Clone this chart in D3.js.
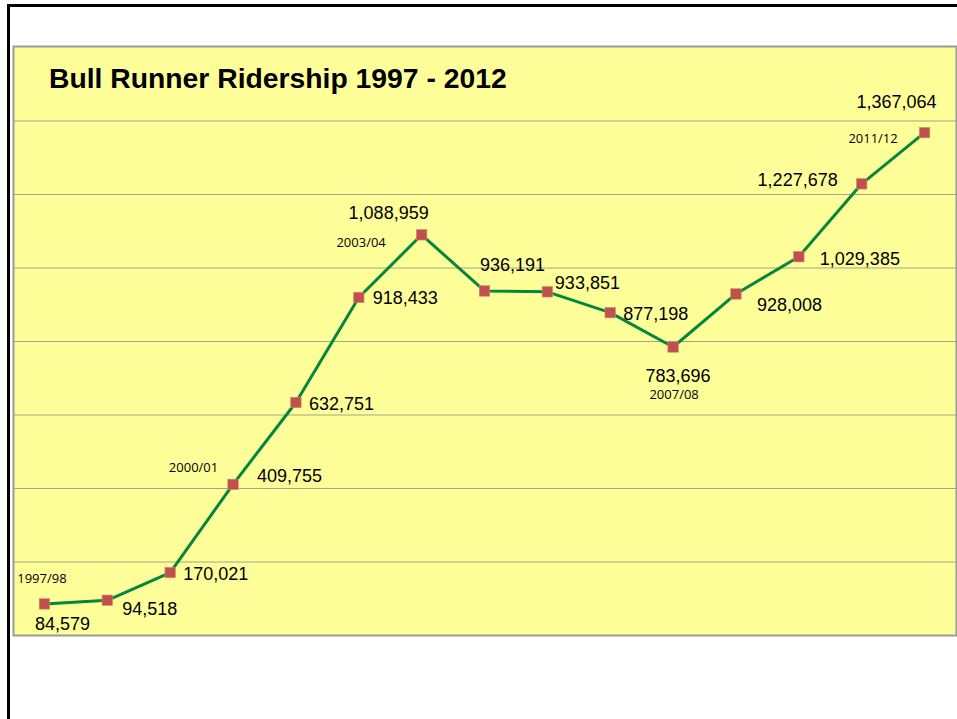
<!DOCTYPE html>
<html>
<head>
<meta charset="utf-8">
<script src="https://cdn.jsdelivr.net/npm/d3@7"></script>
<style>
  html, body { margin: 0; padding: 0; background: #ffffff; }
  svg { display: block; }
</style>
</head>
<body>
<svg id="chart" width="957" height="719"></svg>
<script>
// ---- data ----
const title = "Bull Runner Ridership 1997 - 2012";
const categories = ["1997/98","1998/99","1999/00","2000/01","2001/02","2002/03","2003/04",
  "2004/05","2005/06","2006/07","2007/08","2008/09","2009/10","2010/11","2011/12"];
const ridership = [84579, 94518, 170021, 409755, 632751, 918433, 1088959,
  936191, 933851, 877198, 783696, 928008, 1029385, 1227678, 1367064];
const yTicks = [0, 200000, 400000, 600000, 800000, 1000000, 1200000, 1400000, 1600000];
const labelledCategories = ["1997/98", "2000/01", "2003/04", "2007/08", "2011/12"];

// ---- label layout (offsets from each marker: dx, dy, anchor) ----
const valueLabelLayout = [
  [18, 26, "middle"], [15, 15, "start"], [13, 7, "start"], [24, -2, "start"],
  [13, 7.5, "start"], [14, 6.5, "start"], [-33, -16, "middle"], [-4.5, -20, "start"],
  [7.5, -3, "start"], [13, 7.5, "start"], [5, 35, "middle"], [21, 17, "start"],
  [21, 8, "start"], [-24, 2, "end"], [-28, -25, "middle"]
];
const categoryLabelLayout = {
  "1997/98": [-2.5, -21], "2000/01": [-39.5, -12.5], "2003/04": [-60.5, 12],
  "2007/08": [1, 52], "2011/12": [-51.5, 10]
};

// ---- drawing ----
const svg = d3.select("#chart");
const plot = { left: 13, right: 956, top: 47, bottom: 635 };

// outer black frame (top and left)
svg.append("line").attr("x1", 7).attr("x2", 957).attr("y1", 5.5).attr("y2", 5.5)
  .attr("stroke", "#000").attr("stroke-width", 3);
svg.append("line").attr("x1", 8.5).attr("x2", 8.5).attr("y1", 4).attr("y2", 719)
  .attr("stroke", "#000").attr("stroke-width", 3);

const x = d3.scalePoint().domain(categories).range([plot.left, plot.right]).padding(0.5);
const y = d3.scaleLinear().domain([0, 1600000]).range([plot.bottom, plot.top]);

// plot background
svg.append("rect")
  .attr("x", plot.left).attr("y", plot.top)
  .attr("width", plot.right - plot.left).attr("height", plot.bottom - plot.top)
  .attr("fill", "#FFFF99");

// gridlines via axis
const grid = svg.append("g")
  .attr("transform", `translate(${plot.left},0)`)
  .call(d3.axisRight(y).tickValues(yTicks.slice(1, -1)).tickSize(plot.right - plot.left).tickFormat(""));
grid.select(".domain").remove();
grid.selectAll(".tick line").attr("stroke", "#A3A38C").attr("stroke-width", 1);

// plot border
svg.append("rect")
  .attr("x", plot.left + 0.5).attr("y", plot.top - 0.5)
  .attr("width", plot.right - plot.left).attr("height", plot.bottom - plot.top + 1)
  .attr("fill", "none").attr("stroke", "#9A9A9A").attr("stroke-width", 2);

// title
svg.append("text")
  .attr("x", 49).attr("y", 88)
  .attr("font-family", "'Liberation Sans', Arial, sans-serif")
  .attr("font-weight", "bold").attr("font-size", 28.3)
  .attr("fill", "#000")
  .text(title);

const data = categories.map((c, i) => ({ cat: c, value: ridership[i], i }));

// line
svg.append("path")
  .datum(data)
  .attr("fill", "none")
  .attr("stroke", "#03873C")
  .attr("stroke-width", 3)
  .attr("stroke-linejoin", "round")
  .attr("d", d3.line().x(d => x(d.cat)).y(d => y(d.value)));

// markers
const ms = 10.5;
svg.append("g").selectAll("rect")
  .data(data).join("rect")
  .attr("x", d => x(d.cat) - ms / 2)
  .attr("y", d => y(d.value) - ms / 2)
  .attr("width", ms).attr("height", ms)
  .attr("fill", "#C0504D")
  .attr("stroke", "#D98E6E").attr("stroke-width", 0.6);

// value labels
const fmt = d3.format(",");
svg.append("g").selectAll("text")
  .data(data).join("text")
  .attr("x", d => x(d.cat) + valueLabelLayout[d.i][0])
  .attr("y", d => y(d.value) + valueLabelLayout[d.i][1])
  .attr("text-anchor", d => valueLabelLayout[d.i][2])
  .attr("font-family", "'Liberation Sans', Arial, sans-serif")
  .attr("font-size", 18)
  .attr("fill", "#000")
  .text(d => fmt(d.value));

// category labels
svg.append("g").selectAll("text")
  .data(data.filter(d => labelledCategories.includes(d.cat))).join("text")
  .attr("x", d => x(d.cat) + categoryLabelLayout[d.cat][0])
  .attr("y", d => y(d.value) + categoryLabelLayout[d.cat][1])
  .attr("text-anchor", "middle")
  .attr("font-family", "'Open Sans', 'Noto Sans', sans-serif")
  .attr("font-size", 13)
  .attr("fill", "#000")
  .text(d => d.cat);
</script>
</body>
</html>
